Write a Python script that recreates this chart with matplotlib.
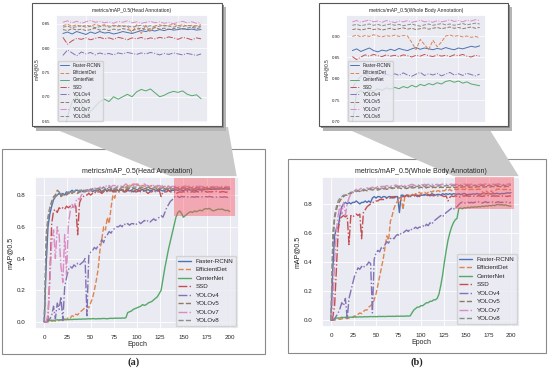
import matplotlib
matplotlib.use("Agg")
import matplotlib.pyplot as plt
from matplotlib.patches import Rectangle, Polygon
import seaborn as sns

W, H = 550, 371

epochs = list(range(0, 201, 2))

models = ['Faster-RCNN', 'EfficientDet', 'CenterNet', 'SSD', 'YOLOv4', 'YOLOv5', 'YOLOv7', 'YOLOv8']
styles = ['-', '--', '-', '-.', '-.', '--', '-.', '--']

# ---- (a) head annotation, one value every 2 epochs ----
head_faster = [
    0.0, 0.35, 0.60, 0.68, 0.73, 0.77, 0.79, 0.80, 0.81, 0.80,
    0.81, 0.80, 0.82, 0.81, 0.82, 0.83, 0.82, 0.83, 0.83, 0.82,
    0.83, 0.82, 0.83, 0.825, 0.83, 0.835, 0.82, 0.83, 0.825, 0.83,
    0.835, 0.82, 0.83, 0.835, 0.825, 0.83, 0.835, 0.825, 0.83, 0.835,
    0.825, 0.83, 0.835, 0.82, 0.83, 0.835, 0.825, 0.83, 0.82, 0.83,
    0.835, 0.825, 0.83, 0.835, 0.825, 0.83, 0.835, 0.825, 0.83, 0.835,
    0.83, 0.825, 0.835, 0.83, 0.825, 0.83, 0.835, 0.83, 0.825, 0.83,
    0.830, 0.833, 0.829, 0.834, 0.831, 0.828, 0.833, 0.830, 0.834, 0.831,
    0.832, 0.829, 0.831, 0.834, 0.832, 0.830, 0.833, 0.836, 0.834, 0.837,
    0.835, 0.838, 0.836, 0.839, 0.837, 0.838, 0.840, 0.838, 0.839, 0.837,
    0.838]
head_eff = [
    0.0, 0.0, 0.0, 0.01, 0.005, 0.01, 0.005, 0.01, 0.01, 0.015,
    0.01, 0.02, 0.015, 0.03, 0.025, 0.04, 0.035, 0.05, 0.045, 0.06,
    0.07, 0.08, 0.09, 0.10, 0.09, 0.12, 0.15, 0.20, 0.26, 0.33,
    0.45, 0.52, 0.60, 0.58, 0.66, 0.62, 0.72, 0.80, 0.78, 0.84,
    0.83, 0.84, 0.85, 0.84, 0.85, 0.86, 0.85, 0.86, 0.87, 0.86,
    0.87, 0.86, 0.85, 0.86, 0.855, 0.86, 0.85, 0.855, 0.86, 0.85,
    0.855, 0.85, 0.86, 0.855, 0.85, 0.855, 0.85, 0.855, 0.85, 0.848,
    0.846, 0.849, 0.845, 0.848, 0.844, 0.847, 0.845, 0.849, 0.846, 0.848,
    0.845, 0.847, 0.844, 0.846, 0.845, 0.832, 0.848, 0.830, 0.847, 0.833,
    0.846, 0.848, 0.845, 0.847, 0.849, 0.846, 0.848, 0.845, 0.847, 0.846,
    0.848]
head_center = [
    0.0, 0.005, 0.01, 0.01, 0.012, 0.01, 0.012, 0.015, 0.013, 0.015,
    0.014, 0.015, 0.016, 0.015, 0.017, 0.016, 0.018, 0.017, 0.018, 0.019,
    0.018, 0.02, 0.019, 0.02, 0.021, 0.02, 0.022, 0.021, 0.02, 0.022,
    0.021, 0.022, 0.023, 0.022, 0.021, 0.023, 0.024, 0.023, 0.025, 0.024,
    0.025, 0.024, 0.026, 0.025, 0.027, 0.06, 0.065, 0.07, 0.08, 0.085,
    0.09, 0.095, 0.10, 0.11, 0.105, 0.11, 0.12, 0.125, 0.13, 0.14,
    0.15, 0.16, 0.18, 0.20, 0.27, 0.34, 0.40, 0.46, 0.51, 0.56,
    0.61, 0.66, 0.69, 0.70, 0.685, 0.66, 0.67, 0.68, 0.69, 0.695,
    0.69, 0.70, 0.695, 0.70, 0.705, 0.70, 0.71, 0.715, 0.712, 0.716,
    0.708, 0.700, 0.703, 0.708, 0.711, 0.709, 0.712, 0.705, 0.702, 0.704,
    0.696]
head_ssd = [
    0.0, 0.0, 0.02, 0.30, 0.62, 0.70, 0.71, 0.69, 0.72, 0.71,
    0.72, 0.71, 0.73, 0.72, 0.73, 0.72, 0.74, 0.73, 0.55, 0.75,
    0.78, 0.79, 0.80, 0.80, 0.81, 0.80, 0.81, 0.82, 0.81, 0.82,
    0.82, 0.81, 0.82, 0.83, 0.82, 0.82, 0.83, 0.82, 0.82, 0.83,
    0.82, 0.82, 0.83, 0.82, 0.82, 0.83, 0.82, 0.82, 0.83, 0.82,
    0.82, 0.83, 0.82, 0.82, 0.83, 0.82, 0.81, 0.82, 0.82, 0.83,
    0.82, 0.82, 0.83, 0.79, 0.82, 0.82, 0.82, 0.83, 0.82, 0.82,
    0.822, 0.808, 0.815, 0.820, 0.818, 0.821, 0.817, 0.820, 0.822, 0.819,
    0.821, 0.818, 0.822, 0.820, 0.817, 0.821, 0.819, 0.822, 0.818, 0.821,
    0.819, 0.822, 0.820, 0.823, 0.821, 0.818, 0.822, 0.820, 0.817, 0.821,
    0.819]
head_v4 = [
    0.0, 0.0, 0.01, 0.02, 0.04, 0.10, 0.02, 0.12, 0.08, 0.16,
    0.01, 0.22, 0.28, 0.33, 0.35, 0.34, 0.36, 0.35, 0.37, 0.36,
    0.37, 0.38, 0.40, 0.04, 0.42, 0.44, 0.45, 0.47, 0.46, 0.48,
    0.49, 0.52, 0.50, 0.54, 0.55, 0.57, 0.56, 0.58, 0.59, 0.60,
    0.60, 0.61, 0.60, 0.62, 0.61, 0.62, 0.61, 0.62, 0.62, 0.61,
    0.62, 0.63, 0.62, 0.63, 0.64, 0.63, 0.64, 0.63, 0.64, 0.65,
    0.64, 0.65, 0.66, 0.67, 0.66, 0.69, 0.72, 0.74, 0.76, 0.77,
    0.785, 0.796, 0.790, 0.784, 0.792, 0.788, 0.791, 0.786, 0.790, 0.787,
    0.789, 0.786, 0.790, 0.788, 0.791, 0.789, 0.787, 0.790, 0.788, 0.791,
    0.789, 0.786, 0.789, 0.787, 0.790, 0.788, 0.786, 0.789, 0.787, 0.785,
    0.788]
head_v5 = [
    0.0, 0.45, 0.65, 0.72, 0.76, 0.79, 0.80, 0.83, 0.82, 0.79,
    0.80, 0.81, 0.80, 0.81, 0.82, 0.81, 0.82, 0.82, 0.81, 0.82,
    0.82, 0.83, 0.82, 0.83, 0.82, 0.83, 0.83, 0.82, 0.83, 0.83,
    0.83, 0.82, 0.83, 0.83, 0.84, 0.83, 0.83, 0.84, 0.83, 0.83,
    0.84, 0.83, 0.83, 0.84, 0.83, 0.84, 0.84, 0.83, 0.84, 0.84,
    0.83, 0.84, 0.84, 0.83, 0.84, 0.84, 0.83, 0.84, 0.84, 0.835,
    0.84, 0.835, 0.84, 0.838, 0.835, 0.84, 0.837, 0.84, 0.836, 0.839,
    0.838, 0.836, 0.840, 0.837, 0.839, 0.836, 0.838, 0.841, 0.837, 0.839,
    0.836, 0.839, 0.837, 0.840, 0.838, 0.836, 0.839, 0.841, 0.838, 0.840,
    0.842, 0.839, 0.841, 0.838, 0.840, 0.842, 0.839, 0.841, 0.843, 0.840,
    0.842]
head_v7 = [
    0.0, 0.0, 0.05, 0.25, 0.50, 0.58, 0.40, 0.60, 0.55, 0.35,
    0.25, 0.55, 0.30, 0.62, 0.70, 0.74, 0.72, 0.76, 0.78, 0.77,
    0.80, 0.81, 0.82, 0.83, 0.82, 0.84, 0.83, 0.84, 0.85, 0.84,
    0.85, 0.84, 0.85, 0.86, 0.85, 0.86, 0.85, 0.86, 0.86, 0.85,
    0.86, 0.86, 0.85, 0.86, 0.87, 0.86, 0.86, 0.87, 0.86, 0.87,
    0.86, 0.87, 0.86, 0.86, 0.87, 0.86, 0.86, 0.85, 0.86, 0.86,
    0.85, 0.86, 0.86, 0.85, 0.86, 0.85, 0.86, 0.855, 0.85, 0.855,
    0.853, 0.856, 0.852, 0.855, 0.851, 0.854, 0.857, 0.853, 0.855, 0.852,
    0.854, 0.851, 0.855, 0.853, 0.856, 0.852, 0.854, 0.851, 0.853, 0.855,
    0.852, 0.854, 0.851, 0.853, 0.850, 0.853, 0.855, 0.852, 0.854, 0.851,
    0.853]
head_v8 = [
    0.0, 0.55, 0.66, 0.72, 0.75, 0.77, 0.79, 0.80, 0.80, 0.81,
    0.80, 0.81, 0.81, 0.82, 0.81, 0.82, 0.82, 0.83, 0.82, 0.83,
    0.83, 0.82, 0.83, 0.83, 0.84, 0.83, 0.84, 0.83, 0.84, 0.84,
    0.84, 0.84, 0.85, 0.84, 0.84, 0.85, 0.84, 0.85, 0.84, 0.85,
    0.85, 0.84, 0.85, 0.85, 0.84, 0.85, 0.85, 0.84, 0.85, 0.85,
    0.85, 0.845, 0.85, 0.845, 0.85, 0.845, 0.85, 0.845, 0.84, 0.845,
    0.845, 0.84, 0.845, 0.842, 0.846, 0.843, 0.845, 0.841, 0.844, 0.842,
    0.843, 0.845, 0.842, 0.844, 0.846, 0.843, 0.845, 0.842, 0.844, 0.846,
    0.843, 0.845, 0.847, 0.844, 0.846, 0.843, 0.845, 0.847, 0.844, 0.846,
    0.843, 0.845, 0.847, 0.845, 0.843, 0.846, 0.844, 0.847, 0.845, 0.843,
    0.845]

# ---- (b) whole body annotation ----
body_faster = [
    0.0, 0.35, 0.58, 0.63, 0.64, 0.72, 0.78, 0.80, 0.81, 0.80,
    0.81, 0.80, 0.81, 0.81, 0.82, 0.81, 0.80, 0.81, 0.81, 0.82,
    0.81, 0.82, 0.81, 0.84, 0.85, 0.84, 0.85, 0.85, 0.84, 0.85,
    0.85, 0.84, 0.85, 0.85, 0.84, 0.85, 0.85, 0.85, 0.74, 0.86,
    0.86, 0.85, 0.86, 0.86, 0.85, 0.86, 0.86, 0.86, 0.85, 0.86,
    0.86, 0.86, 0.865, 0.86, 0.865, 0.86, 0.87, 0.865, 0.86, 0.865,
    0.865, 0.86, 0.87, 0.865, 0.87, 0.865, 0.87, 0.865, 0.87, 0.868,
    0.866, 0.870, 0.864, 0.868, 0.872, 0.866, 0.863, 0.867, 0.865, 0.869,
    0.866, 0.871, 0.868, 0.866, 0.870, 0.873, 0.869, 0.872, 0.870, 0.868,
    0.871, 0.869, 0.873, 0.870, 0.868, 0.872, 0.870, 0.873, 0.876, 0.874,
    0.877]
body_eff = [
    0.0, 0.0, 0.0, 0.005, 0.01, 0.005, 0.01, 0.01, 0.015, 0.01,
    0.015, 0.02, 0.02, 0.03, 0.025, 0.04, 0.05, 0.045, 0.06, 0.07,
    0.07, 0.09, 0.10, 0.11, 0.14, 0.18, 0.24, 0.30, 0.36, 0.42,
    0.50, 0.58, 0.55, 0.68, 0.72, 0.77, 0.80, 0.82, 0.81, 0.84,
    0.76, 0.85, 0.86, 0.85, 0.86, 0.87, 0.86, 0.87, 0.87, 0.88,
    0.87, 0.88, 0.88, 0.87, 0.88, 0.89, 0.88, 0.89, 0.88, 0.89,
    0.89, 0.88, 0.89, 0.89, 0.90, 0.89, 0.90, 0.89, 0.90, 0.90,
    0.899, 0.902, 0.898, 0.901, 0.899, 0.903, 0.900, 0.898, 0.901, 0.899,
    0.902, 0.899, 0.901, 0.900, 0.885, 0.868, 0.892, 0.880, 0.868, 0.890,
    0.875, 0.886, 0.900, 0.902, 0.899, 0.901, 0.898, 0.900, 0.897, 0.899,
    0.896]
body_center = [
    0.0, 0.005, 0.01, 0.015, 0.015, 0.015, 0.02, 0.018, 0.02, 0.02,
    0.02, 0.021, 0.02, 0.022, 0.021, 0.022, 0.023, 0.022, 0.023, 0.024,
    0.023, 0.024, 0.025, 0.024, 0.025, 0.024, 0.025, 0.026, 0.025, 0.026,
    0.025, 0.026, 0.027, 0.026, 0.027, 0.026, 0.027, 0.028, 0.027, 0.028,
    0.027, 0.028, 0.029, 0.028, 0.030, 0.05, 0.07, 0.08, 0.09, 0.09,
    0.10, 0.10, 0.11, 0.12, 0.12, 0.13, 0.13, 0.14, 0.14, 0.15,
    0.18, 0.24, 0.31, 0.40, 0.48, 0.55, 0.60, 0.64, 0.67, 0.69,
    0.70, 0.768, 0.772, 0.766, 0.774, 0.771, 0.777, 0.773, 0.779, 0.776,
    0.780, 0.777, 0.782, 0.779, 0.785, 0.781, 0.787, 0.784, 0.789, 0.786,
    0.791, 0.788, 0.794, 0.796, 0.792, 0.795, 0.790, 0.793, 0.788, 0.786,
    0.784]
body_ssd = [
    0.0, 0.02, 0.10, 0.35, 0.62, 0.70, 0.71, 0.72, 0.71, 0.72,
    0.52, 0.72, 0.71, 0.72, 0.73, 0.72, 0.73, 0.56, 0.74, 0.76,
    0.78, 0.79, 0.80, 0.81, 0.81, 0.82, 0.82, 0.83, 0.83, 0.83,
    0.83, 0.84, 0.84, 0.84, 0.85, 0.84, 0.85, 0.85, 0.84, 0.85,
    0.85, 0.85, 0.86, 0.85, 0.86, 0.86, 0.85, 0.86, 0.86, 0.85,
    0.86, 0.855, 0.86, 0.855, 0.86, 0.855, 0.86, 0.855, 0.86, 0.855,
    0.855, 0.86, 0.855, 0.85, 0.855, 0.82, 0.845, 0.855, 0.85, 0.855,
    0.852, 0.845, 0.851, 0.856, 0.853, 0.857, 0.854, 0.852, 0.856, 0.853,
    0.855, 0.852, 0.856, 0.854, 0.851, 0.855, 0.853, 0.857, 0.854, 0.852,
    0.856, 0.853, 0.855, 0.852, 0.856, 0.854, 0.857, 0.853, 0.851, 0.855,
    0.853]
body_v4 = [
    0.0, 0.0, 0.01, 0.03, 0.05, 0.08, 0.12, 0.10, 0.15, 0.01,
    0.15, 0.20, 0.25, 0.30, 0.33, 0.36, 0.35, 0.37, 0.36, 0.38,
    0.38, 0.40, 0.39, 0.05, 0.42, 0.46, 0.48, 0.47, 0.50, 0.49,
    0.52, 0.54, 0.53, 0.56, 0.57, 0.56, 0.58, 0.59, 0.58, 0.60,
    0.60, 0.61, 0.62, 0.61, 0.63, 0.62, 0.63, 0.64, 0.63, 0.64,
    0.64, 0.65, 0.64, 0.66, 0.65, 0.67, 0.66, 0.68, 0.69, 0.70,
    0.71, 0.72, 0.71, 0.73, 0.74, 0.75, 0.76, 0.77, 0.76, 0.78,
    0.778, 0.795, 0.806, 0.812, 0.804, 0.809, 0.813, 0.806, 0.811, 0.807,
    0.812, 0.808, 0.814, 0.809, 0.806, 0.811, 0.815, 0.808, 0.812, 0.809,
    0.813, 0.807, 0.811, 0.815, 0.809, 0.812, 0.808, 0.813, 0.810, 0.807,
    0.811]
body_v5 = [
    0.0, 0.50, 0.70, 0.76, 0.80, 0.82, 0.84, 0.85, 0.86, 0.86,
    0.87, 0.87, 0.88, 0.88, 0.885, 0.89, 0.885, 0.89, 0.89, 0.895,
    0.89, 0.895, 0.90, 0.895, 0.90, 0.90, 0.895, 0.90, 0.905, 0.90,
    0.905, 0.90, 0.905, 0.91, 0.905, 0.91, 0.905, 0.91, 0.91, 0.905,
    0.91, 0.91, 0.905, 0.91, 0.915, 0.91, 0.91, 0.915, 0.91, 0.91,
    0.915, 0.91, 0.915, 0.91, 0.915, 0.915, 0.91, 0.915, 0.912, 0.915,
    0.912, 0.915, 0.913, 0.916, 0.912, 0.915, 0.913, 0.916, 0.914, 0.912,
    0.915, 0.917, 0.914, 0.916, 0.918, 0.915, 0.917, 0.914, 0.916, 0.918,
    0.915, 0.917, 0.919, 0.916, 0.918, 0.915, 0.917, 0.919, 0.916, 0.918,
    0.920, 0.917, 0.919, 0.921, 0.918, 0.920, 0.917, 0.919, 0.921, 0.918,
    0.920]
body_v7 = [
    0.0, 0.10, 0.40, 0.62, 0.72, 0.79, 0.73, 0.81, 0.72, 0.80,
    0.84, 0.87, 0.88, 0.89, 0.90, 0.89, 0.90, 0.91, 0.90, 0.91,
    0.91, 0.905, 0.91, 0.915, 0.91, 0.915, 0.92, 0.915, 0.92, 0.92,
    0.92, 0.925, 0.92, 0.925, 0.92, 0.925, 0.93, 0.925, 0.92, 0.925,
    0.93, 0.925, 0.93, 0.925, 0.93, 0.935, 0.93, 0.925, 0.93, 0.93,
    0.935, 0.93, 0.935, 0.93, 0.935, 0.93, 0.935, 0.93, 0.932, 0.935,
    0.93, 0.933, 0.936, 0.932, 0.935, 0.931, 0.934, 0.936, 0.932, 0.935,
    0.933, 0.936, 0.932, 0.935, 0.937, 0.933, 0.935, 0.932, 0.936, 0.934,
    0.931, 0.935, 0.933, 0.936, 0.932, 0.934, 0.937, 0.933, 0.935, 0.932,
    0.936, 0.933, 0.935, 0.938, 0.934, 0.936, 0.933, 0.937, 0.935, 0.938,
    0.936]
body_v8 = [
    0.0, 0.60, 0.72, 0.78, 0.82, 0.84, 0.85, 0.86, 0.86, 0.87,
    0.87, 0.88, 0.88, 0.89, 0.885, 0.89, 0.895, 0.89, 0.90, 0.895,
    0.90, 0.90, 0.905, 0.90, 0.905, 0.91, 0.905, 0.91, 0.91, 0.905,
    0.91, 0.915, 0.91, 0.915, 0.91, 0.915, 0.92, 0.915, 0.92, 0.915,
    0.92, 0.915, 0.92, 0.92, 0.915, 0.92, 0.925, 0.92, 0.92, 0.925,
    0.92, 0.925, 0.92, 0.925, 0.922, 0.925, 0.92, 0.924, 0.926, 0.922,
    0.925, 0.922, 0.926, 0.923, 0.925, 0.927, 0.923, 0.926, 0.924, 0.927,
    0.925, 0.927, 0.924, 0.926, 0.928, 0.925, 0.927, 0.924, 0.926, 0.928,
    0.925, 0.927, 0.924, 0.926, 0.928, 0.925, 0.923, 0.926, 0.928, 0.925,
    0.927, 0.929, 0.926, 0.928, 0.925, 0.927, 0.929, 0.926, 0.928, 0.930,
    0.928]

head_series = [head_faster, head_eff, head_center, head_ssd, head_v4, head_v5, head_v7, head_v8]
body_series = [body_faster, body_eff, body_center, body_ssd, body_v4, body_v5, body_v7, body_v8]
for s in head_series + body_series:
    assert len(s) == len(epochs), len(s)


def px_rect(x0, y0, x1, y1):
    # pixel box (top-left origin) -> figure fraction [l, b, w, h]
    return [x0 / W, 1 - y1 / H, (x1 - x0) / W, (y1 - y0) / H]


def px_pt(x, y):
    return (x / W, 1 - y / H)


sns.set_theme(style='darkgrid')
plt.rcParams['font.family'] = ['Liberation Sans', 'DejaVu Sans']
colors = sns.color_palette('deep', 8)

fig = plt.figure(figsize=(W / 100, H / 100), dpi=100)
fig.patch.set_facecolor('white')


def fig_box(x0, y0, x1, y1, z, fc='white', ec='none', lw=0.8):
    l, b, w, h = px_rect(x0, y0, x1, y1)
    r = Rectangle((l, b), w, h, transform=fig.transFigure, facecolor=fc,
                  edgecolor=ec, linewidth=lw, zorder=z)
    fig.add_artist(r)


def fig_poly(pts, z, fc):
    p = Polygon([px_pt(x, y) for x, y in pts], closed=True, transform=fig.transFigure,
                facecolor=fc, edgecolor='none', zorder=z)
    fig.add_artist(p)


# panel frames
fig_box(2, 149, 265, 354, -3, ec='#8a8a8a')
fig_box(288, 159, 546, 353, -3, ec='#8a8a8a')

# zoom connectors
fig_poly([(50, 127), (228, 127), (237, 178), (175, 178)], -2, '#c9c9c9')
fig_poly([(343, 127), (488, 127), (520, 178), (458, 178)], -2, '#c9c9c9')

# inset frames with drop shadow
for x0, y0, x1, y1 in [(32, 3, 222, 126), (319, 3, 508, 126)]:
    fig_box(x0 + 4, y0 + 4, x1 + 4, y1 + 5, -1.6, fc='#b5b5b5')
    fig_box(x0 + 2, y0 + 2, x1 + 2, y1 + 2, -1.5, fc='#8f8f8f')
    fig_box(x0, y0, x1, y1, -1, ec='#555555')


def plot_main(rect, series, title, hl):
    ax = fig.add_axes(rect)
    for name, ls, vals, c in zip(models, styles, series, colors):
        ax.plot(epochs, vals, ls, color=c, lw=1.0, label=name)
    ax.set_title(title, fontsize=5, pad=3)
    ax.set_xlabel('Epoch', fontsize=5, labelpad=1)
    ax.set_ylabel('mAP@0.5', fontsize=5, labelpad=2)
    ax.set_xticks(range(0, 201, 25))
    ax.set_yticks([0.0, 0.2, 0.4, 0.6, 0.8])
    ax.tick_params(axis='x', labelsize=4.5, length=0, pad=4)
    ax.tick_params(axis='y', labelsize=4.5, length=0, pad=7)
    ax.grid(linewidth=0.6)
    ax.legend(loc='lower right', fontsize=4.5)
    ax.add_patch(Rectangle((hl[0], hl[2]), hl[1] - hl[0], hl[3] - hl[2],
                           facecolor='#ff4d5e', alpha=0.42, linewidth=0, zorder=5))
    return ax


def plot_inset(rect, series, title, ylim, yticks):
    ax = fig.add_axes(rect)
    i0 = epochs.index(140)
    for name, ls, vals, c in zip(models, styles, series, colors):
        ax.plot(epochs[i0:], vals[i0:], ls, color=c, lw=0.7, label=name)
    ax.set_title(title, fontsize=3.6, pad=2)
    ax.set_ylabel('mAP@0.5', fontsize=3.4, labelpad=2)
    ax.set_xlim(137, 203)
    ax.set_ylim(*ylim)
    ax.set_xticks([150, 170, 190])
    ax.set_yticks(yticks)
    ax.tick_params(labelsize=3.2, length=0, pad=4, labelbottom=False)
    ax.grid(linewidth=0.5)
    ax.legend(loc='lower left', fontsize=3.3)
    return ax


plot_main(px_rect(35, 177, 239, 329), head_series,
          'metrics/mAP_0.5(Head Annotation)', (140, 206, 0.665, 0.91))
plot_main(px_rect(322, 177, 520, 327), body_series,
          'metrics/mAP_0.5(Whole Body Annotation)', (138, 203, 0.765, 0.985))

plot_inset(px_rect(56, 15, 208, 123), head_series,
           'metrics/mAP_0.5(Head Annotation)', (0.646, 0.868),
           [0.65, 0.70, 0.75, 0.80, 0.85])
plot_inset(px_rect(346, 15, 486, 123), body_series,
           'metrics/mAP_0.5(Whole Body Annotation)', (0.697, 0.949),
           [0.70, 0.75, 0.80, 0.85, 0.90])

fig.text(134 / W, 1 - 362 / H, '(a)', ha='center', va='center', fontsize=7.5,
         fontweight='bold', family='Liberation Serif')
fig.text(417 / W, 1 - 362 / H, '(b)', ha='center', va='center', fontsize=7.5,
         fontweight='bold', family='Liberation Serif')

fig.savefig('out.png', dpi=100)
